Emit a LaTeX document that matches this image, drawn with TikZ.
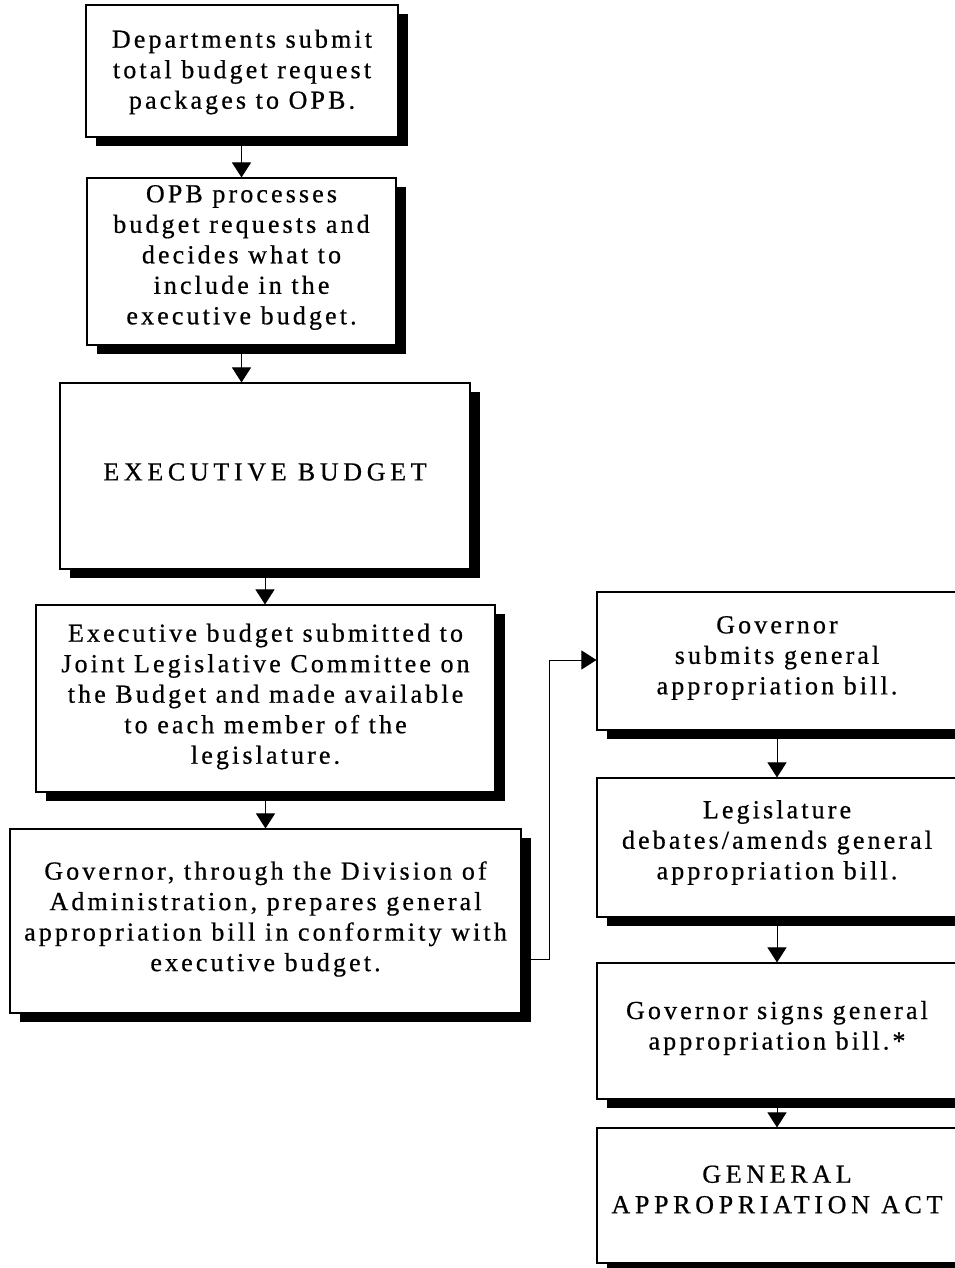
\documentclass[tikz,border=0pt]{standalone}
\usepackage{fontspec}
\setmainfont{Liberation Serif}[LetterSpace=12, FakeBold=0.6]
\usetikzlibrary{arrows.meta,shadows}

% centred lines, nudged vertically while keeping their measured size
\newcommand{\nudgedlines}[3]{\raisebox{#1}[\height][\depth]{\parbox{#2}{\centering #3}}}

\tikzset{
  stagebox/.style={draw, line width=1.1pt, fill=white, align=center,
    inner sep=0pt, font=\fontsize{26}{30.5}\selectfont,
    drop shadow={shadow xshift=10pt, shadow yshift=-9pt, fill=black, opacity=1}},
  capstext/.style={font=\fontsize{26}{30.5}\selectfont\addfontfeatures{LetterSpace=18}},
  arr/.style={line width=1pt, -{Triangle[width=19pt,length=15pt]}}
}

\begin{document}
\begin{tikzpicture}[x=1pt, y=-1pt]
  \useasboundingbox (0,0) rectangle (955,1268);

  % left column: budget preparation
  \node[stagebox, minimum width=312pt, minimum height=132pt] (submit) at (242,71)
    {\nudgedlines{-1pt}{300pt}{Departments submit\\total budget request\\packages to OPB.}};
  \node[stagebox, minimum width=309pt, minimum height=167pt] (process) at (241.5,261.5)
    {\nudgedlines{4pt}{300pt}{OPB processes\\budget requests and\\decides what to\\include in the\\executive budget.}};
  \node[stagebox, capstext, minimum width=410pt, minimum height=186pt] (execbudget) at (265,476)
    {\nudgedlines{4pt}{400pt}{EXECUTIVE BUDGET}};
  \node[stagebox, minimum width=459pt, minimum height=187pt] (jlcb) at (265.5,698.5)
    {\nudgedlines{2pt}{450pt}{Executive budget submitted to\\Joint Legislative Committee on\\the Budget and made available\\to each member of the\\legislature.}};
  \node[stagebox, minimum width=511pt, minimum height=184pt] (prepare) at (265.5,921)
    {\nudgedlines{2pt}{505pt}{Governor, through the Division of\\Administration, prepares general\\appropriation bill in conformity with\\executive budget.}};

  % right column: legislative passage
  \node[stagebox, minimum width=360pt, minimum height=138pt] (govsubmit) at (777,661)
    {\nudgedlines{3pt}{350pt}{Governor\\submits general\\appropriation bill.}};
  \node[stagebox, minimum width=360pt, minimum height=139pt] (debate) at (777,847.5)
    {\nudgedlines{5pt}{350pt}{Legislature\\debates/amends general\\appropriation bill.}};
  \node[stagebox, minimum width=360pt, minimum height=136pt] (signs) at (777,1031)
    {\nudgedlines{3pt}{350pt}{Governor signs general\\appropriation bill.*}};
  \node[stagebox, capstext, minimum width=360pt, minimum height=135pt] (act) at (777,1195.5)
    {\nudgedlines{6pt}{350pt}{GENERAL\\APPROPRIATION ACT}};

  % vertical flow arrows
  \draw[arr] (submit.south -| process.north) -- (process.north);
  \draw[arr] (process.south) -- (process.south |- execbudget.north);
  \draw[arr] (execbudget.south) -- (execbudget.south |- jlcb.north);
  \draw[arr] (jlcb.south) -- (jlcb.south |- prepare.north);
  \draw[arr] (govsubmit.south) -- (debate.north);
  \draw[arr] (debate.south) -- (signs.north);
  \draw[arr] (signs.south) -- (act.north);

  % elbow connector between the columns
  \coordinate (lowbend) at (549,959);
  \coordinate (highbend) at (549,660);
  \draw[arr] (lowbend -| prepare.east) -- (lowbend) -- (highbend) -- (highbend -| govsubmit.west);
\end{tikzpicture}
\end{document}
